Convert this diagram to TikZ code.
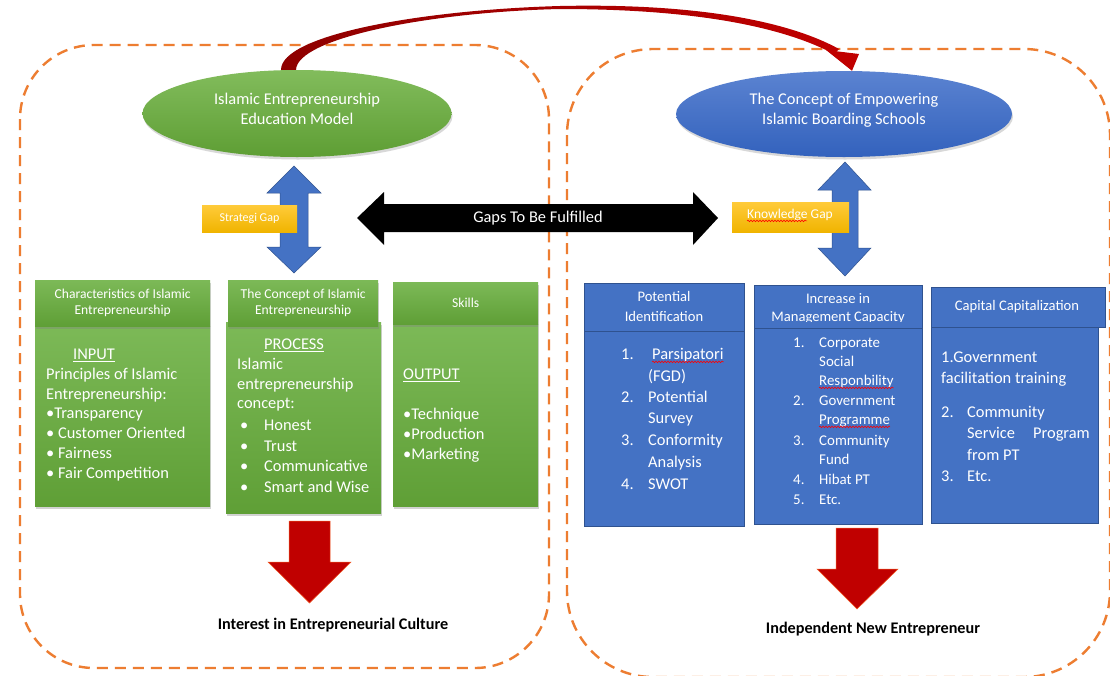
\documentclass[tikz,border=0pt]{standalone}
\usepackage{fontspec}
\setmainfont{Carlito}
\usetikzlibrary{shadows,shapes.geometric,decorations.pathmorphing,calc}
\definecolor{orng}{HTML}{ED7D31}
\definecolor{grnT}{HTML}{7CB957}
\definecolor{grnB}{HTML}{5F9F36}
\definecolor{gelT}{HTML}{82BC5C}
\definecolor{gelB}{HTML}{5E9E34}
\definecolor{blu}{HTML}{4472C4}
\definecolor{bluD}{HTML}{2F528F}
\definecolor{belT}{HTML}{5B83D1}
\definecolor{belB}{HTML}{3362BD}
\definecolor{ylT}{HTML}{FFCB3A}
\definecolor{ylB}{HTML}{F0B400}
\definecolor{dred}{HTML}{C00000}
\definecolor{drk}{HTML}{8E0000}
\newcommand\fsBody{\fontsize{16.4}{19}\selectfont}
\newcommand\fsHead{\fontsize{13.6}{16}\selectfont}
\newcommand\fsBlue{\fontsize{14.6}{18}\selectfont}
\newcommand\fsMid{\fontsize{14.9}{17}\selectfont}
\begin{document}
\begin{tikzpicture}[x=1pt,y=-1pt,
  dashbox/.style={draw=orng, line width=2.4pt, dash pattern=on 11pt off 7pt},
  gbox/.style={rectangle, inner sep=0pt, top color=grnT, bottom color=grnB,
    drop shadow={opacity=0.35, shadow xshift=0.8pt, shadow yshift=-2.5pt}},
  bbox/.style={rectangle, inner sep=0pt, fill=blu, draw=bluD, line width=0.6pt},
  wt/.style={inner sep=0pt, text=white, font=\fsBody, anchor=mid west},
  wtb/.style={inner sep=0pt, text=white, font=\fsMid, anchor=mid west},
  hd/.style={inner sep=0pt, text=white, font=\fsHead, align=center},
  bh/.style={inner sep=0pt, text=white, font=\fsBlue, anchor=mid},
  et/.style={inner sep=0pt, text=white, font=\fsBody, anchor=mid},
  wavy/.style={draw=red, line width=0.6pt, decorate,
    decoration={snake, amplitude=0.8pt, segment length=3pt}},
  gapbox/.style={rectangle, inner sep=0pt, top color=ylT, bottom color=ylB, text=white},
  bluearrow/.style={fill=blu, draw=bluD, line width=0.5pt},
  redarrow/.style={fill=dred, draw=orng!70!red, line width=0.5pt},
  lbl/.style={inner sep=0pt, font=\fontsize{16.2}{19}\selectfont\bfseries, text=black}
]
\useasboundingbox (0,0) rectangle (1110,675);
\clip (0,0) rectangle (1110,675);
\fill[white] (0,0) rectangle (1110,675);

% dashed containers
\draw[dashbox, rounded corners=74pt] (20,45) rectangle (549,668);
\draw[dashbox, rounded corners=86pt] (567,49) rectangle (1110,677);

% ellipses
\node[ellipse, inner sep=0pt, minimum width=309pt, minimum height=87pt,
  top color=gelT, bottom color=gelB,
  drop shadow={opacity=0.3, shadow xshift=1pt, shadow yshift=-2.5pt}] (gE) at (297,113.5) {};
\node[et] (gEt1) at (297,102) {Islamic Entrepreneurship};
\node[et] (gEt2) at (297,122.5) {Education Model};
\node[ellipse, inner sep=0pt, minimum width=336pt, minimum height=86pt,
  top color=belT, bottom color=belB,
  drop shadow={opacity=0.3, shadow xshift=1pt, shadow yshift=-2.5pt}] (bE) at (844,114) {};
\node[et] (bEt1) at (844,102) {The Concept of Empowering};
\node[et] (bEt2) at (844,122.5) {Islamic Boarding Schools};

% curved red arrow from green ellipse to blue ellipse
\coordinate (rs1) at ($(gE.north)+(-16,0)$);
\coordinate (rs2) at ($(gE.north)+(-1,0)$);
\coordinate (rt) at ($(bE.north)+(8,0)$);
\shade[left color=drk, right color=dred]
  (rs1) .. controls (281,35) and (420,10) .. (560,6)
  .. controls (700,3) and (790,22) .. (839,49) -- (834,54)
  .. controls (785,28) and (700,9) .. (560,9)
  .. controls (430,12) and (297,38) .. (rs2) -- cycle;
\fill[dred] (826,50) -- (859,54) -- (rt) -- cycle;

% blue double arrows
\draw[bluearrow] (294,166) -- (321,193) -- (308,193) -- (308,247) -- (321,247)
  -- (294,273) -- (267,247) -- (280,247) -- (280,193) -- (267,193) -- cycle;
\draw[bluearrow] (845,162) -- (871,190) -- (858,190) -- (858,248) -- (871,248)
  -- (845,276) -- (818,248) -- (832,248) -- (832,190) -- (818,190) -- cycle;

% gap labels
\node[gapbox, minimum width=95pt, minimum height=27pt,
  font=\fontsize{12}{14}\selectfont] (sg) at (249.5,218.5) {Strategi Gap};
\node[gapbox, minimum width=117pt, minimum height=30pt] (kg) at (790.5,217) {};
\node[inner sep=0pt, text=white, font=\fontsize{13.5}{15}\selectfont, anchor=mid west]
  (kgt) at (747,216) {Knowledge Gap};
\draw[wavy] ($(kgt.base west)+(0,2.5)$) -- ($(kgt.base west)+(60,2.5)$);

% black double arrow
\fill[black] (357,218) -- (384,192) -- (384,204) -- (693,204) -- (693,192)
  -- (718,218) -- (693,245) -- (693,232) -- (384,232) -- (384,245) -- cycle;
\node[inner sep=0pt, text=white, font=\fsBody] (gap) at (538,218.5) {Gaps To Be Fulfilled};

% green boxes: bodies
\node[gbox, anchor=north west, minimum width=175pt, minimum height=180pt] (g1) at (35,326) {};
\node[gbox, anchor=north west, minimum width=155pt, minimum height=191pt] (g2) at (226,322) {};
\node[gbox, anchor=north west, minimum width=145pt, minimum height=182pt] (g3) at (393,324) {};
% green boxes: headers
\node[gbox, anchor=north west, minimum width=175pt, minimum height=46pt, hd] (h1) at (35,280)
  {Characteristics of Islamic\\Entrepreneurship};
\node[gbox, anchor=north west, minimum width=150pt, minimum height=46pt, hd] (h2) at (228,280)
  {The Concept of Islamic\\Entrepreneurship};
\node[gbox, anchor=north west, minimum width=145pt, minimum height=42pt, hd] (h3) at (393,282)
  {Skills};

% box 1 text
\node[wt] (t1a) at (73,357) {\underline{INPUT}};
\node[wt] (t1b) at (46,377) {Principles of Islamic};
\node[wt] (t1c) at (46,397) {Entrepreneurship:};
\node[wt] (t1d) at (46,416) {•Transparency};
\node[wt] (t1e) at (46,436) {• Customer Oriented};
\node[wt] (t1f) at (46,456) {• Fairness};
\node[wt] (t1g) at (46,476) {• Fair Competition};
% box 2 text
\node[wt] (t2a) at (264,347) {\underline{PROCESS}};
\node[wt] (t2b) at (237,367) {Islamic};
\node[wt] (t2c) at (237,387) {entrepreneurship};
\node[wt] (t2d) at (237,406) {concept:};
\node[wt] (t2e) at (240,428) {•};
\node[wt] (t2f) at (264,428) {Honest};
\node[wt] (t2g) at (240,449) {•};
\node[wt] (t2h) at (264,449) {Trust};
\node[wt] (t2i) at (240,469) {•};
\node[wt] (t2j) at (264,469) {Communicative};
\node[wt] (t2k) at (240,490) {•};
\node[wt] (t2l) at (264,490) {Smart and Wise};
% box 3 text
\node[wt] (t3a) at (403,377) {\underline{OUTPUT}};
\node[wt] (t3b) at (403,417) {•Technique};
\node[wt] (t3c) at (403,437) {•Production};
\node[wt] (t3d) at (403,457) {•Marketing};

% blue boxes
\node[bbox, anchor=north west, minimum width=160pt, minimum height=48pt] (ba) at (584,283) {};
\node[bbox, anchor=north west, minimum width=160pt, minimum height=195pt] (bab) at (584,331) {};
\node[bbox, anchor=north west, minimum width=168pt, minimum height=43pt] (bb) at (754,285) {};
\node[bbox, anchor=north west, minimum width=168pt, minimum height=196pt] (bbb) at (754,328) {};
\node[bbox, anchor=north west, minimum width=174pt, minimum height=40pt] (bc) at (931,287) {};
\node[bbox, anchor=north west, minimum width=167pt, minimum height=196pt] (bcb) at (931,327) {};

% blue headers text
\node[bh] (bat1) at (664,299) {Potential};
\node[bh] (bat2) at (664,319) {Identification};
\begin{scope}
  \clip (755,286) rectangle (921,321.5);
  \node[bh] (bbt1) at (838,301) {Increase in};
  \node[bh] (bbt2) at (838,318.8) {Management Capacity};
\end{scope}
\node[bh] (bct1) at (1017,308) {Capital Capitalization};

% box A text
\node[wt] (a1n) at (621,357) {1.};
\node[wt] (a1) at (652,357) {Parsipatori};
\draw[wavy] ($(a1.base west)+(0,2.5)$) -- ($(a1.base east)+(0,2.5)$);
\node[wt] (a1b) at (648,379) {(FGD)};
\node[wt] (a2n) at (621,400) {2.};
\node[wt] (a2) at (648,400) {Potential};
\node[wt] (a2b) at (648,421) {Survey};
\node[wt] (a3n) at (621,443) {3.};
\node[wt] (a3) at (648,443) {Conformity};
\node[wt] (a3b) at (648,465) {Analysis};
\node[wt] (a4n) at (621,487) {4.};
\node[wt] (a4) at (648,487) {SWOT};

% box B text
\node[wtb] (b1n) at (793,345) {1.};
\node[wtb] (b1) at (819,345) {Corporate};
\node[wtb] (b1b) at (819,364) {Social};
\node[wtb] (b1c) at (819,383) {Responbility};
\draw[wavy] ($(b1c.base west)+(0,2.5)$) -- ($(b1c.base east)+(0,2.5)$);
\node[wtb] (b2n) at (793,403) {2.};
\node[wtb] (b2) at (819,403) {Government};
\node[wtb] (b2b) at (819,422) {Programme};
\draw[wavy] ($(b2b.base west)+(0,2.5)$) -- ($(b2b.base east)+(0,2.5)$);
\node[wtb] (b3n) at (793,443) {3.};
\node[wtb] (b3) at (819,443) {Community};
\node[wtb] (b3b) at (819,462) {Fund};
\node[wtb] (b4n) at (793,482) {4.};
\node[wtb] (b4) at (819,482) {Hibat PT};
\node[wtb] (b5n) at (793,502) {5.};
\node[wtb] (b5) at (819,502) {Etc.};

% box C text
\node[wt] (c1) at (941,360) {1.Government};
\node[wt] (c1b) at (941,381) {facilitation training};
\node[wt] (c2n) at (941,415) {2.};
\node[wt] (c2) at (967,415) {Community};
\node[wt] (c2b) at (967,436) {Service};
\node[wt, anchor=mid east] (c2c) at (1090,436) {Program};
\node[wt] (c2d) at (967,458) {from PT};
\node[wt] (c3n) at (941,479) {3.};
\node[wt] (c3) at (967,479) {Etc.};

% red down arrows
\draw[redarrow] (289,521) -- (330,521) -- (330,562) -- (351,562) -- (309.5,603)
  -- (268,562) -- (289,562) -- cycle;
\draw[redarrow] (836,528) -- (878,528) -- (878,569) -- (898,569) -- (857,609)
  -- (817,569) -- (836,569) -- cycle;

% outcome labels
\node[lbl] (out1) at (333,625) {Interest in Entrepreneurial Culture};
\node[lbl] (out2) at (873,629) {Independent New Entrepreneur};
\end{tikzpicture}
\end{document}
